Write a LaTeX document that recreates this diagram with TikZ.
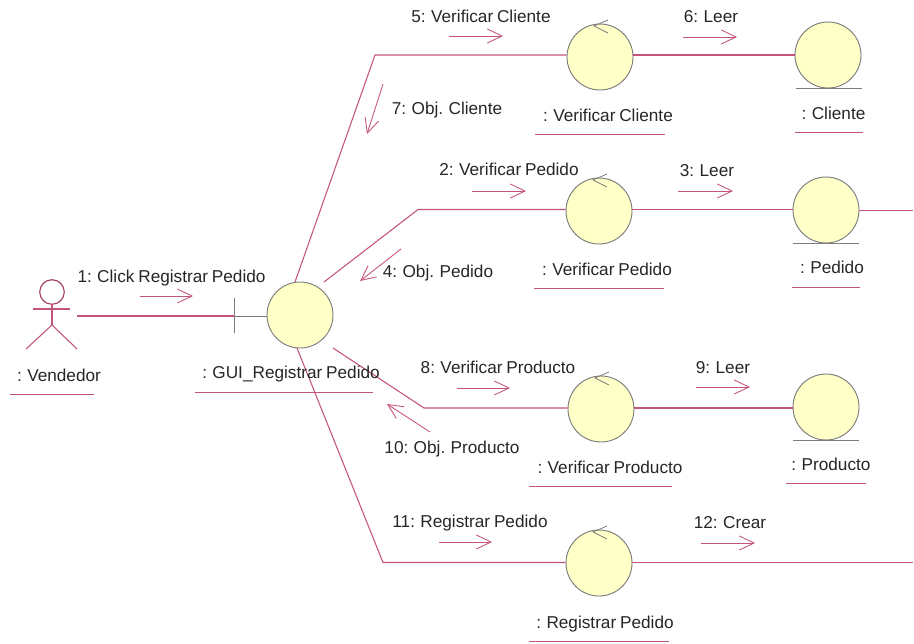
\documentclass[tikz,border=0pt]{standalone}
\usepackage{fontspec}
\setmainfont[WordSpace=0.8]{Liberation Sans}
\usetikzlibrary{arrows.meta}
\definecolor{rosel}{RGB}{196,84,122}
\definecolor{robj}{RGB}{255,255,200}
\definecolor{rgr}{RGB}{125,125,125}
\tikzset{
 x=0.75pt,y=-0.75pt,
 obj/.style={circle,draw=rgr,fill=robj,line width=0.7pt,inner sep=0pt,minimum size=49.5pt},
 lnk/.style={draw=rosel,line width=0.8pt},
 msg/.style={draw=rosel,line width=0.65pt,-{Straight Barb[length=11pt,width=10.5pt,line width=0.65pt]}},
 uline/.style={draw=rosel,line width=0.7pt},
 glyph/.style={draw=rgr,line width=0.6pt},
 txt/.style={font=\fontsize{12.9pt}{14pt}\selectfont,text=black!85,inner sep=0pt,anchor=base},
}
\begin{document}
\begin{tikzpicture}
\useasboundingbox (0,0) rectangle (914,643);
% objects
\node[obj] (gui) at (300,315) {};
\node[obj] (vc) at (600,57) {};
\node[obj] (cl) at (828,55) {};
\node[obj] (vp) at (599,211) {};
\node[obj] (pe) at (826,210) {};
\node[obj] (vr) at (601,409) {};
\node[obj] (pr) at (826,407) {};
\node[obj] (rp) at (599,563) {};
% corner and free-end points
\coordinate (c1) at (375,55);
\coordinate (c2) at (418,209.5);
\coordinate (c3) at (424,408);
\coordinate (c4) at (383,562.5);
\coordinate (e1) at (913,210.5);
\coordinate (e2) at (913,562.5);
\coordinate (a0) at (77,316);
\coordinate (bar) at (234,316);
% connectors
\draw[lnk] (a0) -- (bar);
\draw[glyph] (bar) -- (gui.west |- bar);
\draw[glyph] (234,298) -- (234,333);
\draw[lnk] (295,282) -- (c1) -- (c1 -| vc.west);
\draw[lnk] (324,282) -- (c2) -- (c2 -| vp.west);
\draw[lnk] (333,348) -- (c3) -- (c3 -| vr.west);
\draw[lnk] (297,348) -- (c4) -- (c4 -| rp.west);
\draw[lnk] (c1 -| vc.east) -- (cl.west);
\draw[lnk] (c2 -| vp.east) -- (c2 -| pe.west);
\draw[lnk] (c3 -| vr.east) -- (c3 -| pr.west);
\draw[lnk] (c4 -| rp.east) -- (e2);
\draw[lnk] (e1 -| pe.east) -- (e1);
% control and entity glyphs
\foreach \n/\x/\y in {vc/600/25, vp/599/179, vr/601/377, rp/599/531}{
  \draw[glyph] (\x+8,\y-5) -- (\x-6,\y+1) -- (\x+8,\y+8);
}
\draw[glyph] (796,88.5) -- (862,88.5);
\draw[glyph] (793,243.5) -- (859,243.5);
\draw[glyph] (793,440.5) -- (859,440.5);
% actor
\draw[draw=rosel!85!black,line width=0.9pt] (52,292) circle (9.2pt);
\draw[lnk] (52,304) -- (52,325);
\draw[lnk] (33,309) -- (70,309);
\draw[lnk] (26,349) -- (52,325) -- (77,349);
% messages
\draw[msg] (140,296) -- (193,296);
\draw[msg] (449,36) -- (503,36);
\draw[msg] (683,37) -- (737,37);
\draw[msg] (383,84) -- (367,134);
\draw[msg] (472,191) -- (526,191);
\draw[msg] (678,191) -- (733,191);
\draw[msg] (401,249) -- (360,281);
\draw[msg] (457,388) -- (510,388);
\draw[msg] (696,387) -- (750,387);
\draw[msg] (430,432) -- (387,404);
\draw[msg] (439,542) -- (492,542);
\draw[msg] (701,543) -- (755,543);
% message labels
\node[txt] (m1) at (171.5,282) {1: Click Registrar Pedido};
\node[txt] (m5) at (481,22) {5: Verificar Cliente};
\node[txt] (m6) at (711,22) {6: Leer};
\node[txt] (m7) at (447,114) {7: Obj. Cliente};
\node[txt] (m2) at (509,175) {2: Verificar Pedido};
\node[txt] (m3) at (707,176) {3: Leer};
\node[txt] (m4) at (438,277) {4: Obj. Pedido};
\node[txt] (m8) at (498,373) {8: Verificar Producto};
\node[txt] (m9) at (723,373) {9: Leer};
\node[txt] (m10) at (452,453) {10: Obj. Producto};
\node[txt] (m11) at (470,527) {11: Registrar Pedido};
\node[txt] (m12) at (730,528) {12: Crear};
% object labels
\node[txt] (lv) at (59,381) {: Vendedor};
\node[txt] (lg) at (291,378) {: GUI\_Registrar Pedido};
\node[txt] (lvc) at (608,121) {: Verificar Cliente};
\node[txt] (lcl) at (833.5,119) {: Cliente};
\node[txt] (lvp) at (607,275) {: Verificar Pedido};
\node[txt] (lpe) at (832,273) {: Pedido};
\node[txt] (lvr) at (610,473) {: Verificar Producto};
\node[txt] (lpr) at (831,470) {: Producto};
\node[txt] (lrp) at (605,628) {: Registrar Pedido};
% underlines
\draw[uline] (10,394) -- (94,394);
\draw[uline] (195,392) -- (373,392);
\draw[uline] (535,134) -- (665,134);
\draw[uline] (795,132) -- (863,132);
\draw[uline] (534,288) -- (664,288);
\draw[uline] (792,287) -- (860,287);
\draw[uline] (529,486) -- (672,486);
\draw[uline] (786,483) -- (866,483);
\draw[uline] (529,641) -- (669,641);
\end{tikzpicture}
\end{document}
